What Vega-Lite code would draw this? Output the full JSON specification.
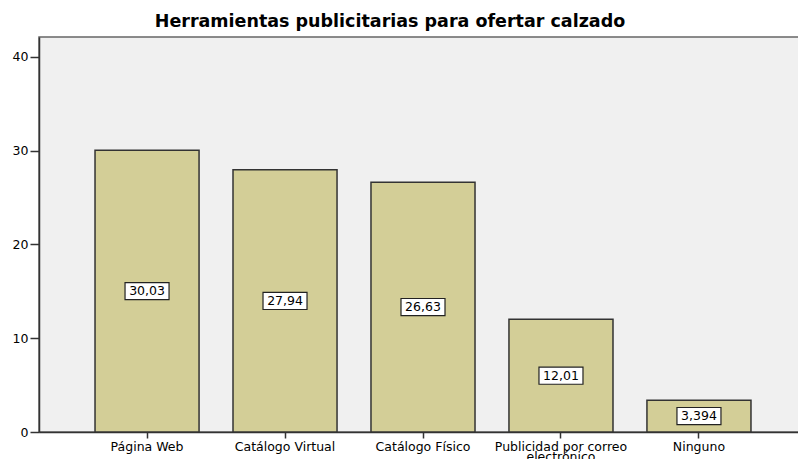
{
  "$schema": "https://vega.github.io/schema/vega-lite/v6.json",
  "autosize": "none",
  "padding": {"left": 39, "top": 37, "right": 0, "bottom": 27},
  "width": 768,
  "height": 395,
  "background": "white",
  "title": {
    "text": "Herramientas publicitarias para ofertar calzado",
    "font": "DejaVu Sans",
    "fontSize": 17.5,
    "fontWeight": "bold",
    "color": "black",
    "anchor": "middle",
    "frame": "group",
    "dx": -33,
    "offset": 7
  },
  "config": {
    "locale": {"number": {"decimal": ",", "thousands": ".", "grouping": [3], "currency": ["", " €"]}},
    "view": {"fill": "#f0f0f0", "stroke": "#666666", "strokeWidth": 1.5},
    "axis": {
      "labelFont": "DejaVu Sans",
      "labelFontSize": 12.5,
      "labelColor": "black",
      "domainColor": "#333333",
      "domainWidth": 1.5,
      "tickColor": "#333333",
      "tickWidth": 1.5,
      "grid": false,
      "title": null
    }
  },
  "data": {
    "values": [
      {"herramienta": "Página Web", "v": 30.03},
      {"herramienta": "Catálogo Virtual", "v": 27.94},
      {"herramienta": "Catálogo Físico", "v": 26.63},
      {"herramienta": "Publicidad por correo electrónico", "v": 12.01},
      {"herramienta": "Ninguno", "v": 3.394}
    ]
  },
  "transform": [{"calculate": "datum.v / 2", "as": "mid"}],
  "encoding": {
    "x": {
      "field": "herramienta",
      "type": "nominal",
      "sort": null,
      "scale": {"paddingInner": 0.246, "paddingOuter": 0.406},
      "axis": {
        "labelAngle": 0,
        "tickSize": 6,
        "labelPadding": 2,
        "labelLineHeight": 10,
        "labelExpr": "datum.label == 'Publicidad por correo electrónico' ? ['Publicidad por correo', 'electrónico'] : datum.label"
      }
    }
  },
  "layer": [
    {
      "mark": {"type": "bar", "color": "#d3ce97", "stroke": "#333333", "strokeWidth": 1.5},
      "encoding": {
        "y": {
          "field": "v",
          "type": "quantitative",
          "scale": {"domain": [0, 42.1], "nice": false},
          "axis": {"values": [0, 10, 20, 30, 40], "tickSize": 9, "labelPadding": 2}
        }
      }
    },
    {
      "mark": {"type": "point", "shape": "M-1,-0.39H1V0.39H-1Z", "size": 1936, "filled": true, "fill": "white", "stroke": "#222222", "strokeWidth": 1.2, "opacity": 1},
      "encoding": {"y": {"field": "mid", "type": "quantitative"}}
    },
    {
      "mark": {"type": "text", "font": "DejaVu Sans", "fontSize": 12.5, "color": "black", "baseline": "middle", "align": "center"},
      "encoding": {
        "y": {"field": "mid", "type": "quantitative"},
        "text": {"field": "v", "type": "quantitative", "format": ".4"}
      }
    }
  ]
}
